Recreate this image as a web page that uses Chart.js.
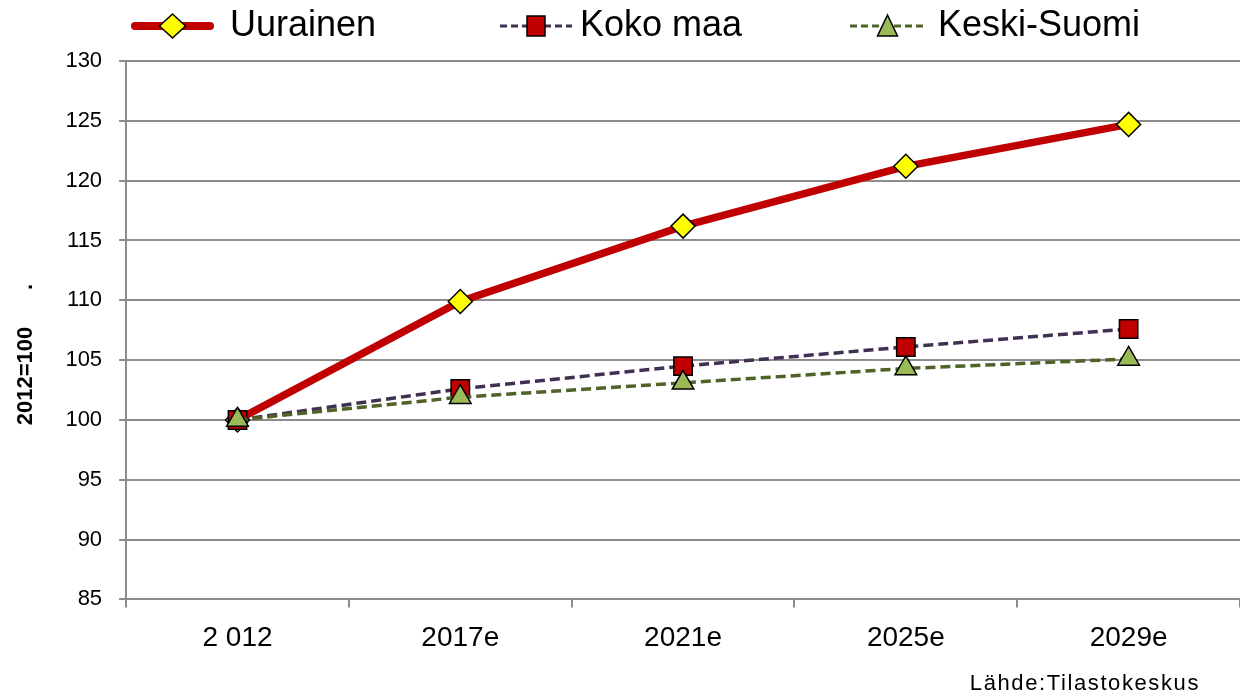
<!DOCTYPE html>
<html>
<head>
<meta charset="utf-8">
<script src="https://cdn.jsdelivr.net/npm/chart.js@4"></script>
<style>
  html, body { margin: 0; padding: 0; background: #fff; overflow: hidden; }
  #wrap { width: 1240px; height: 694px; position: relative; }
</style>
</head>
<body>
<div id="wrap"><canvas id="myChart"></canvas></div>
<script>
const years = ['2 012', '2017e', '2021e', '2025e', '2029e'];
const uurainen = [100, 109.9, 116.2, 121.2, 124.7];
const kokoMaa = [100, 102.6, 104.5, 106.1, 107.6];
const keskiSuomi = [100, 101.9, 103.1, 104.3, 105.1];
const yTicks = [85, 90, 95, 100, 105, 110, 115, 120, 125, 130];
const seriesNames = ['Uurainen', 'Koko maa', 'Keski-Suomi'];

const FONT = "'Liberation Sans', Arial, sans-serif";
const GRID = '#8c8c8c';

// legend drawn by hand so it can have the Excel-like line + marker icons
const legendLayout = [
  { x0: 135, x1: 210, text: 230, color: '#c00000', width: 8, dash: null, shape: 'diamond', fill: '#ffff00' },
  { x0: 500, x1: 572, text: 580, color: '#403152', width: 3, dash: [7, 4], shape: 'square', fill: '#c00000' },
  { x0: 850, x1: 925, text: 938, color: '#4f6228', width: 3, dash: [7, 4], shape: 'triangle', fill: '#9bbb59' }
];

const topLegend = {
  id: 'topLegend',
  afterDraw(chart) {
    const g = chart.ctx;
    const y = 26;
    g.save();
    legendLayout.forEach((it, i) => {
      g.strokeStyle = it.color;
      g.lineWidth = it.width;
      g.lineCap = it.dash ? 'butt' : 'round';
      g.setLineDash(it.dash || []);
      g.beginPath(); g.moveTo(it.x0, y); g.lineTo(it.x1, y); g.stroke();
      g.setLineDash([]);
      const cx = (it.x0 + it.x1) / 2;
      g.fillStyle = it.fill; g.strokeStyle = '#000'; g.lineWidth = 1.5;
      g.beginPath();
      if (it.shape === 'diamond') {
        g.moveTo(cx, y - 12); g.lineTo(cx + 13, y); g.lineTo(cx, y + 12); g.lineTo(cx - 13, y); g.closePath();
      } else if (it.shape === 'square') {
        g.rect(cx - 9, y - 10, 18, 20);
      } else {
        g.moveTo(cx, y - 11); g.lineTo(cx + 10, y + 10); g.lineTo(cx - 10, y + 10); g.closePath();
      }
      g.fill(); g.stroke();
      g.fillStyle = '#000';
      g.font = '36px ' + FONT;
      g.textAlign = 'left';
      g.textBaseline = 'middle';
      g.fillText(seriesNames[i], it.text, y);
    });
    g.restore();
  }
};

const sourceNote = {
  id: 'sourceNote',
  afterDraw(chart) {
    const c = chart.ctx;
    c.save();
    c.font = '22px ' + FONT;
    c.letterSpacing = '1.6px';
    c.fillStyle = '#000';
    c.textAlign = 'right';
    c.textBaseline = 'alphabetic';
    c.fillText('Lähde:Tilastokeskus', 1200, 690);
    c.restore();
  }
};

const ctx = document.getElementById('myChart');

new Chart(ctx, {
  type: 'line',
  data: {
    labels: years,
    datasets: [
      {
        label: seriesNames[0],
        data: uurainen,
        borderColor: '#c00000',
        borderWidth: 7.5,
        pointStyle: 'rectRot',
        pointRadius: 12,
        pointBackgroundColor: '#ffff00',
        pointBorderColor: '#000',
        pointBorderWidth: 1.5,
        order: 3
      },
      {
        label: seriesNames[1],
        data: kokoMaa,
        borderColor: '#403152',
        borderWidth: 3.5,
        borderDash: [10, 5],
        pointStyle: 'rect',
        pointRadius: 13,
        pointBackgroundColor: '#c00000',
        pointBorderColor: '#000',
        pointBorderWidth: 1.5,
        order: 2
      },
      {
        label: seriesNames[2],
        data: keskiSuomi,
        borderColor: '#4f6228',
        borderWidth: 3.5,
        borderDash: [10, 5],
        pointStyle: 'triangle',
        pointRadius: 12.5,
        pointBackgroundColor: '#9bbb59',
        pointBorderColor: '#000',
        pointBorderWidth: 1.5,
        order: 1
      }
    ]
  },
  options: {
    responsive: true,
    maintainAspectRatio: false,
    animation: false,
    layout: { autoPadding: false, padding: { left: 7, right: -6, top: 61, bottom: 25 } },
    plugins: {
      tooltip: { enabled: false },
      legend: { display: false }
    },
    scales: {
      x: {
        offset: true,
        afterFit(scale) { scale.paddingLeft = 0; scale.paddingRight = 0; },
        grid: {
          offset: true,
          drawOnChartArea: false,
          tickLength: 8,
          color: GRID,
          lineWidth: 2
        },
        border: { color: GRID, width: 2 },
        ticks: { color: '#000', font: { family: FONT, size: 28 }, padding: 14 }
      },
      y: {
        min: 85,
        max: 130,
        afterBuildTicks(axis) { axis.ticks = yTicks.map(v => ({ value: v })); },
        grid: { color: GRID, tickLength: 7, lineWidth: 2 },
        border: { color: GRID, width: 2 },
        ticks: { color: '#000', font: { family: FONT, size: 22 }, padding: 17 },
        title: {
          display: true,
          text: '2012=100      .        ',
          color: '#000',
          font: { family: FONT, size: 22, weight: 'bold' },
          padding: { top: 6, bottom: 9 }
        }
      }
    }
  },
  plugins: [topLegend, sourceNote]
});
</script>
</body>
</html>
